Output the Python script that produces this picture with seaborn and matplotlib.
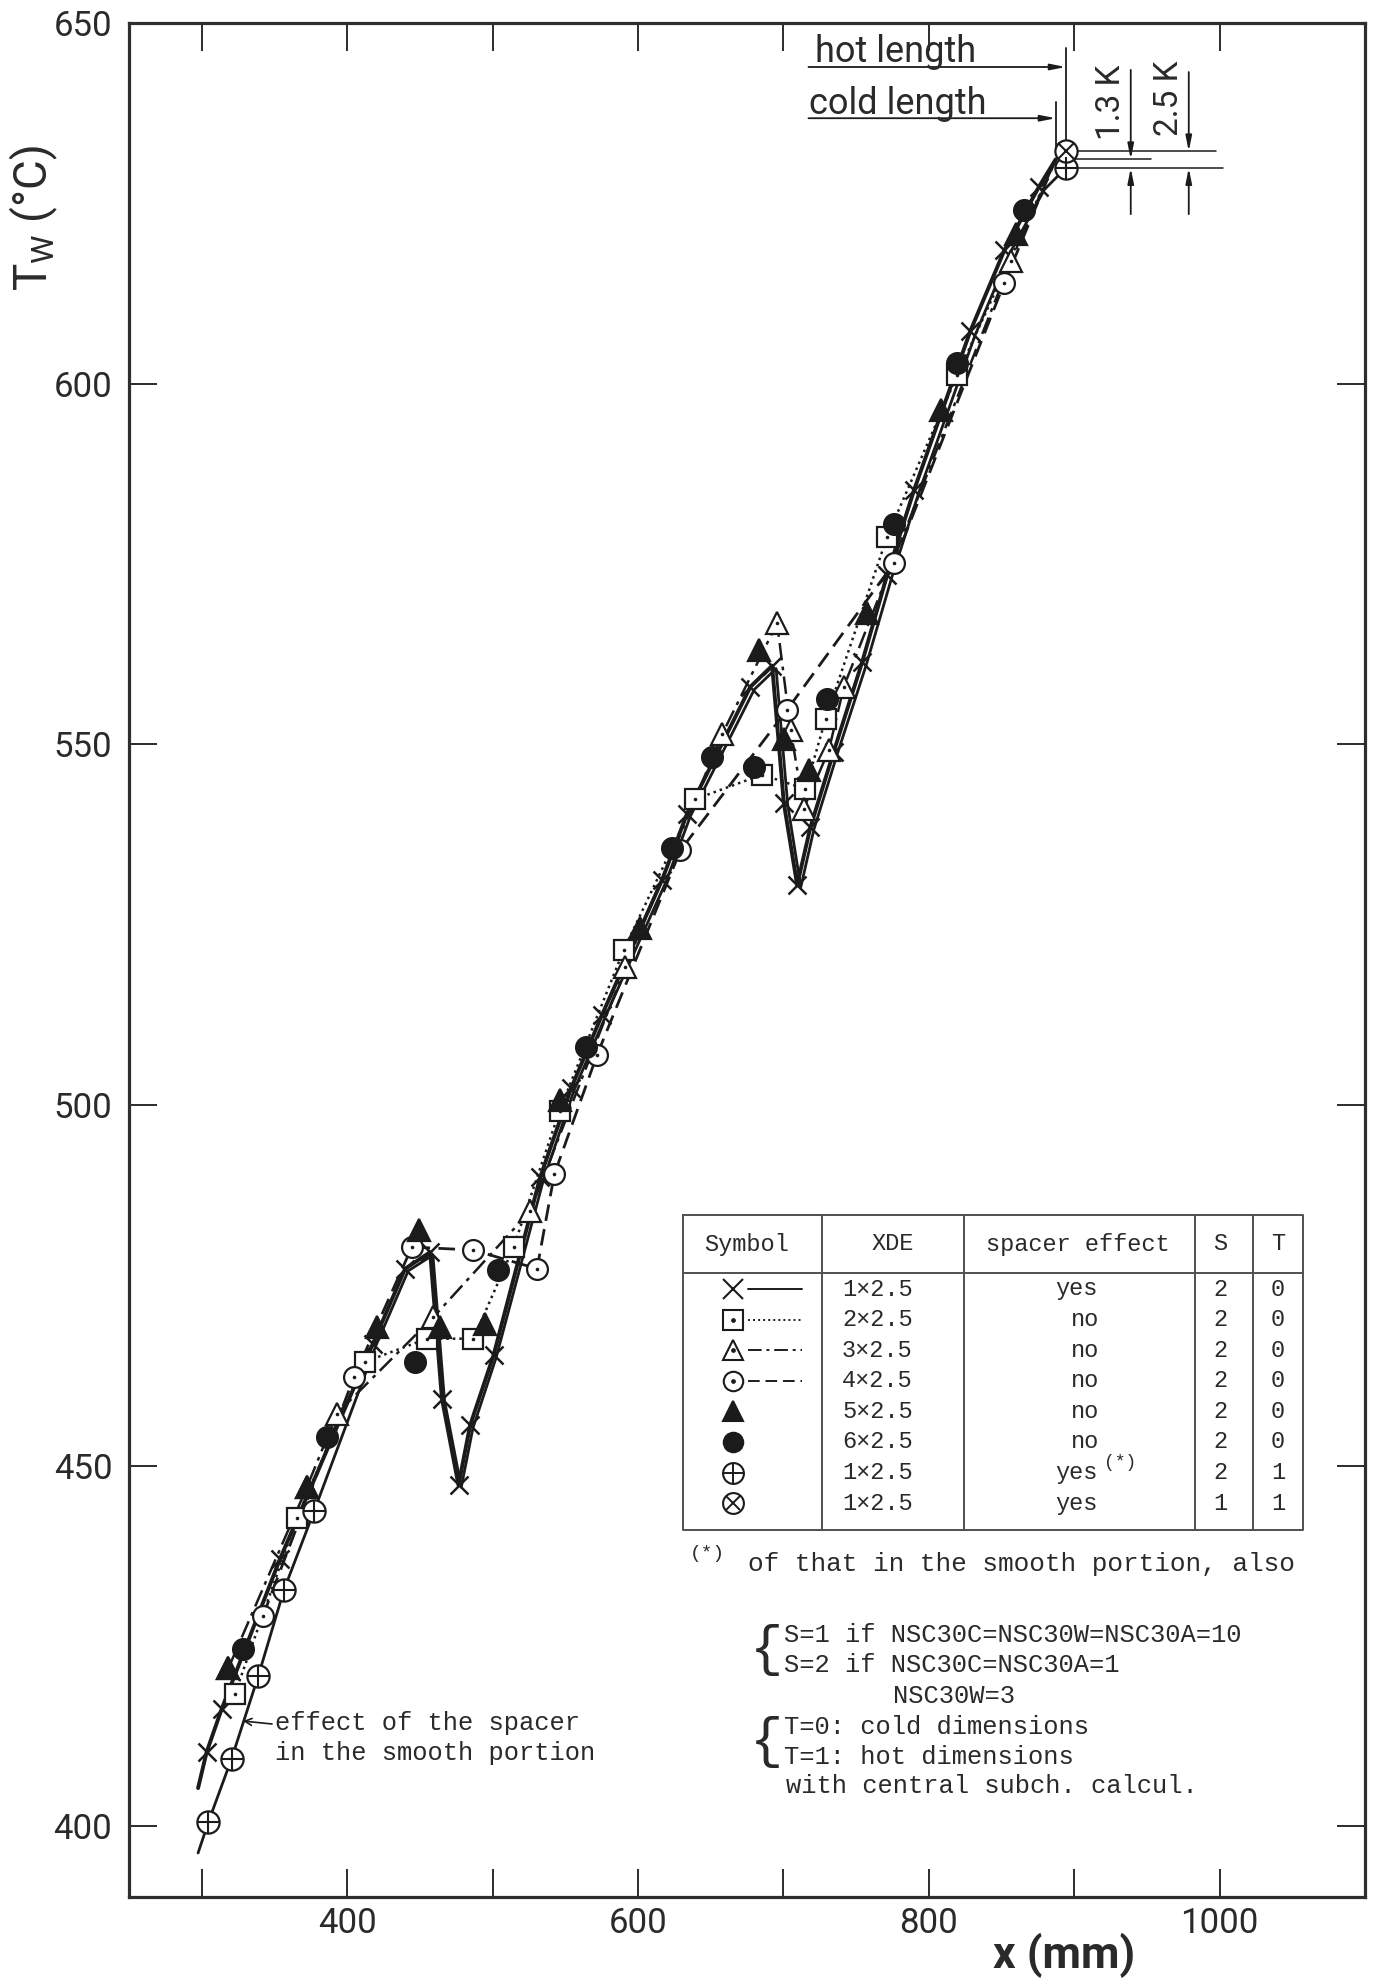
import matplotlib
matplotlib.use("Agg")
import matplotlib.pyplot as plt
import seaborn as sns

# ---- values: x (mm), wall temperature Tw (deg C) ----
# 1x2.5, spacer effect yes, S=2, T=0   (x, solid line; first point = line start only)
x_cross = [297.5, 303.4, 313.8, 353.9, 417.7, 439.9, 457.1, 465.2, 476.6, 484.6,
           500.7, 532.8, 554.0, 575.3, 616.6, 633.8, 677.4, 692.3, 700.3, 709.5,
           718.6, 734.7, 754.2, 771.4, 789.8, 828.6, 852.0, 875.8, 887.3]
y_cross = [405.3, 410.3, 416.3, 437.1, 466.9, 477.3, 479.6, 459.3, 447.3, 455.6,
           465.3, 490.0, 502.3, 512.5, 531.2, 540.4, 558.0, 560.9, 541.9, 530.5,
           538.5, 549.0, 561.4, 573.5, 585.2, 607.3, 618.5, 627.3, 631.1]

# 2x2.5 (open square, dotted)
x_sq = [322.9, 365.4, 412.4, 454.9, 486.9, 514.5, 546.1, 590.2, 639.5, 685.4,
        715.2, 729.0, 771.4, 819.6]
y_sq = [418.4, 442.7, 464.4, 467.6, 467.6, 480.3, 499.2, 521.5, 542.4, 545.8,
        543.8, 553.5, 578.8, 601.2]

# 3x2.5 (open triangle, dash-dot)
x_tri = [318.3, 372.3, 392.9, 459.4, 525.9, 591.3, 657.9, 695.7, 705.0, 714.0,
         731.3, 741.6, 856.4]
y_tri = [421.9, 447.0, 457.2, 470.6, 485.3, 519.1, 551.4, 566.8, 552.0, 541.1,
         549.2, 558.0, 617.0]

# 4x2.5 (open circle, dashed)
x_circ = [342.0, 404.8, 444.5, 486.5, 530.6, 542.5, 571.8, 629.2, 702.6, 776.0, 852.0]
y_circ = [429.1, 462.3, 480.3, 479.9, 477.3, 490.4, 506.9, 535.3, 554.8, 575.1, 614.0]

# 5x2.5 (filled triangle)
x_trif = [318.3, 372.3, 420.4, 449.1, 464.0, 495.0, 546.6, 601.7, 683.1, 700.3,
          717.5, 757.7, 808.1, 859.7]
y_trif = [421.9, 447.0, 469.2, 482.6, 469.2, 469.7, 500.7, 524.6, 563.1, 550.7,
          546.4, 568.2, 596.3, 620.8]

# 6x2.5 (filled circle)
x_dot = [328.2, 386.0, 446.8, 504.1, 564.5, 623.5, 651.0, 679.6, 730.1, 776.0, 819.6, 865.5]
y_dot = [424.6, 454.0, 464.4, 477.1, 508.1, 535.6, 548.2, 546.8, 556.3, 580.6, 602.8, 624.1]

# 1x2.5, S=2, T=1 (circle-plus, solid line)
x_oplus = [297.5, 304.6, 320.6, 339.0, 356.6, 377.3, 419.5, 442.0, 459.0, 467.0,
           478.5, 486.5, 502.5, 535.0, 556.0, 577.5, 619.0, 636.0, 680.0, 695.0,
           703.0, 712.0, 721.0, 737.0, 757.0, 774.5, 793.0, 832.0, 855.5, 879.5, 894.2]
y_oplus = [396.3, 400.6, 409.4, 420.9, 432.8, 443.7, 466.5, 477.0, 479.2, 459.0,
           447.0, 455.2, 465.0, 489.6, 502.0, 512.2, 530.8, 540.0, 557.6, 560.5,
           541.6, 530.2, 538.2, 548.6, 561.0, 573.1, 584.8, 606.8, 618.0, 626.9, 629.9]
oplus_marked = [1, 2, 3, 4, 5, 30]

# 1x2.5, S=1, T=1 (circle-cross, end value only)
x_otimes = [894.2]
y_otimes = [632.2]

# common end of the cold-length curves
x_cold_end = 887.3
y_cold_end = 631.1

# legend table
xde = ["1\u00d72.5", "2\u00d72.5", "3\u00d72.5", "4\u00d72.5", "5\u00d72.5", "6\u00d72.5",
       "1\u00d72.5", "1\u00d72.5"]
spacer = ["yes", "no", "no", "no", "no", "no", "yes", "yes"]
s_col = ["2", "2", "2", "2", "2", "2", "2", "1"]
t_col = ["0", "0", "0", "0", "0", "0", "1", "1"]

sns.set_style("white")
plt.rcParams["font.family"] = ["Roboto", "DejaVu Sans"]
mono = ["Liberation Mono", "DejaVu Sans Mono"]
ink = "#1b1b1b"

W, H = 1375, 1979
fig = plt.figure(figsize=(W / 100, H / 100), dpi=100)
ax = fig.add_axes([129 / W, 1 - 1897 / H, (1365 - 129) / W, (1897 - 23) / H])

DOTTED = (0, (1, 1.6))
DASHDOT = (0, (7, 2.5, 1.5, 2.5))
DASHED = (0, (6, 3))


def line(xs, ys, style, lw):
    sns.lineplot(x=xs, y=ys, sort=False, estimator=None, ax=ax, color=ink,
                 linestyle=style, lw=lw, zorder=2)


def marks(xs, ys, marker, ms, fill="white", mew=1.6, every=None, z=3):
    sns.lineplot(x=xs, y=ys, sort=False, estimator=None, ax=ax, color=ink,
                 linestyle="none", marker=marker, ms=ms, mfc=fill, mec=ink,
                 mew=mew, markevery=every, zorder=z)


# lines
line(x_cross, y_cross, "-", 2.8)
line(x_sq + [x_cold_end], y_sq + [y_cold_end], DOTTED, 1.8)
line(x_tri + [x_cold_end], y_tri + [y_cold_end], DASHDOT, 1.8)
line(x_circ + [x_cold_end], y_circ + [y_cold_end], DASHED, 2.0)
line(x_oplus, y_oplus, "-", 2.0)

# markers
marks(x_cross, y_cross, "x", 13, every=slice(1, -1), mew=1.8)
marks(x_sq, y_sq, "s", 14)
marks(x_tri, y_tri, "^", 16)
marks(x_circ, y_circ, "o", 15)
for xs, ys in [(x_sq, y_sq), (x_tri, y_tri), (x_circ, y_circ)]:
    marks(xs, ys, "o", 2.6, fill=ink, mew=0, z=4)
marks(x_trif, y_trif, "^", 16, fill=ink, z=5)
marks(x_dot, y_dot, "o", 15, fill=ink, z=5)
marks(x_oplus, y_oplus, "o", 16, every=oplus_marked, z=6)
marks(x_oplus, y_oplus, "+", 16, every=oplus_marked, mew=1.5, z=7)
marks(x_otimes, y_otimes, "o", 16, z=6)
marks(x_otimes, y_otimes, "x", 11, mew=1.5, z=7)

ax.set_xlim(250, 1100)
ax.set_ylim(390.2, 650)
ax.set_xticks(range(300, 1001, 100))
ax.set_xticklabels(["" if v % 200 else str(v) for v in range(300, 1001, 100)])
ax.set_yticks(range(400, 651, 50))
ax.set_xlabel("")
ax.set_ylabel("")
ax.tick_params(direction="in", length=20, width=1.3, color=ink, labelcolor="#2a2a2a",
               labelsize=25, top=True, right=True, bottom=True, left=True)
ax.tick_params(axis="y", pad=12)
ax.tick_params(axis="x", pad=7)
for s in ax.spines.values():
    s.set_linewidth(2.3)
    s.set_color("#2e2e2e")

fig.text(34 / W, 1 - 218 / H, r"T$_{\mathregular{W}}$ (°C)", rotation=90,
         ha="center", va="center", fontsize=33, color="#2a2a2a")
fig.text(1064 / W, 1 - 1955 / H, "x (mm)", ha="center", va="center",
         fontsize=32, fontweight="bold", color="#2a2a2a")

# hot / cold length marks near the outlet
arr = dict(arrowstyle="-|>,head_length=0.9,head_width=0.18", color=ink, lw=1.3,
           shrinkA=0, shrinkB=0)
ax.annotate("", xy=(894.2, 643.9), xytext=(717.3, 643.9), arrowprops=arr,
            annotation_clip=False)
ax.annotate("", xy=(887.3, 636.8), xytext=(717.3, 636.8), arrowprops=arr,
            annotation_clip=False)
ax.text(722, 644.6, "hot length", fontsize=26, color="#2a2a2a", va="baseline")
ax.text(717.3, 637.4, "cold length", fontsize=26, color="#2a2a2a", va="baseline")
ax.plot([894.2, 894.2], [646.5, 632.9], color=ink, lw=1.3)
ax.plot([887.3, 887.3], [639.0, 632.6], color=ink, lw=1.3)
ax.plot([894.2, 997.4], [632.2, 632.2], color=ink, lw=1.1)
ax.plot([894.2, 952.7], [631.1, 631.1], color=ink, lw=1.1)
ax.plot([894.2, 1002.2], [629.9, 629.9], color=ink, lw=1.1)
for xa, ytop, yhi in [(938.9, 643.5, 631.1), (978.8, 643.2, 632.2)]:
    ax.annotate("", xy=(xa, yhi), xytext=(xa, ytop), arrowprops=arr, annotation_clip=False)
    ax.annotate("", xy=(xa, 629.9), xytext=(xa, 623.5), arrowprops=arr, annotation_clip=False)
ax.text(925.1, 639.0, "1.3 K", rotation=90, ha="center", va="center", fontsize=24,
        color="#2a2a2a")
ax.text(965.0, 639.6, "2.5 K", rotation=90, ha="center", va="center", fontsize=24,
        color="#2a2a2a")

# ---- overlay in pixel coordinates for the table and the notes ----
ov = fig.add_axes([0, 0, 1, 1], zorder=5)
ov.set_xlim(0, W)
ov.set_ylim(H, 0)
ov.axis("off")

grid_c = "#505050"
tl, tr, tt, tb = 683, 1303, 1215, 1530
ov.plot([tl, tr, tr, tl, tl], [tt, tt, tb, tb, tt], color=grid_c, lw=1.4)
ov.plot([tl, tr], [1273, 1273], color=grid_c, lw=1.4)
for cx in [822, 964, 1195, 1253]:
    ov.plot([cx, cx], [tt, tb], color=grid_c, lw=1.4)

tkw = dict(family=mono, color="#2a2a2a", va="center")
for txt, cx in [("Symbol", 747), ("XDE", 893), ("spacer effect", 1078), ("S", 1220), ("T", 1278)]:
    ov.text(cx, 1244, txt, ha="center", fontsize=17, **tkw)

rows_y = [1289 + 30.6 * i for i in range(8)]
sample_ls = ["-", DOTTED, DASHDOT, DASHED]
sample_mk = ["x", "s", "^", "o", "^", "o"]
for i, ry in enumerate(rows_y):
    if i < 4:
        ov.plot([748, 802], [ry, ry], color=ink, lw=1.4, linestyle=sample_ls[i])
    if i < 6:
        fill = ink if i >= 4 else "white"
        ov.plot([733], [ry], marker=sample_mk[i], ms=14, mfc=fill, mec=ink,
                mew=1.5, color=ink, linestyle="none")
        if i in (1, 2, 3):
            ov.plot([733], [ry], marker="o", ms=2.4, color=ink, linestyle="none")
    elif i == 6:
        ov.plot([733], [ry], marker="o", ms=15, mfc="white", mec=ink, mew=1.5, linestyle="none")
        ov.plot([733], [ry], marker="+", ms=15, mec=ink, mew=1.4, linestyle="none")
    else:
        ov.plot([733], [ry], marker="o", ms=15, mfc="white", mec=ink, mew=1.5, linestyle="none")
        ov.plot([733], [ry], marker="x", ms=10, mec=ink, mew=1.4, linestyle="none")
    ov.text(842, ry, xde[i], ha="left", fontsize=17, **tkw)
    ov.text(1076 if spacer[i] == "yes" else 1085, ry, spacer[i], ha="center", fontsize=17, **tkw)
    ov.text(1220, ry, s_col[i], ha="center", fontsize=17, **tkw)
    ov.text(1278, ry, t_col[i], ha="center", fontsize=17, **tkw)
ov.text(1104, rows_y[6] - 10, "(*)", ha="left", fontsize=13, **tkw)

ov.text(690, 1553, "(*)", ha="left", fontsize=14, **tkw)
ov.text(748, 1564, "of that in the smooth portion, also", ha="left", fontsize=18.8, **tkw)

nkw = dict(family=mono, color="#2a2a2a", va="center", ha="left", fontsize=18.4)
ov.text(784, 1635, "S=1 if NSC30C=NSC30W=NSC30A=10", **nkw)
ov.text(784, 1665.5, "S=2 if NSC30C=NSC30A=1", **nkw)
ov.text(893, 1696, "NSC30W=3", **nkw)
ov.text(784, 1727, "T=0: cold dimensions", **nkw)
ov.text(784, 1757.5, "T=1: hot dimensions", **nkw)
ov.text(786, 1786, "with central subch. calcul.", **nkw)
for by in [1650, 1742]:
    ov.text(783, by, "{", ha="right", va="center", fontsize=40,
            family=["Liberation Mono", "DejaVu Sans Mono"], color="#2a2a2a")

ov.text(275, 1723, "effect of the spacer", **nkw)
ov.text(275, 1753, "in the smooth portion", **nkw)
ov.annotate("", xy=(243, 1721), xytext=(272, 1724),
            arrowprops=dict(arrowstyle="->,head_length=0.5,head_width=0.25",
                            color=ink, lw=1.2, shrinkA=0, shrinkB=0))

fig.savefig("out.png", dpi=100)
